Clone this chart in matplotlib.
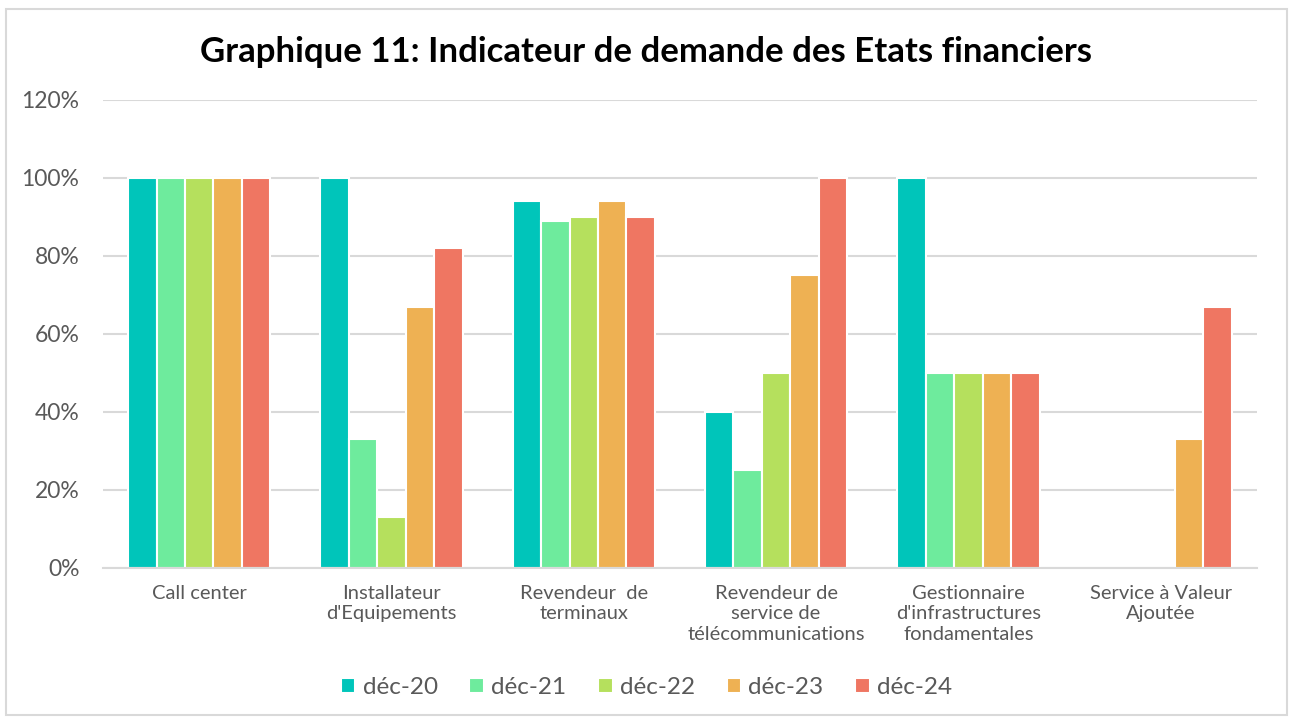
import matplotlib.pyplot as plt
import numpy as np
from matplotlib.patches import Rectangle

# categories and series (values in %)
categories = ["Call center", "Installateur\nd'Equipements", "Revendeur  de\nterminaux",
              "Revendeur de\nservice de\ntélécommunications",
              "Gestionnaire\nd'infrastructures\nfondamentales", "Service à Valeur\nAjoutée"]
series_names = ["déc-20", "déc-21", "déc-22", "déc-23", "déc-24"]
dec20 = [100, 100, 94, 40, 100, 0]
dec21 = [100, 33, 89, 25, 50, 0]
dec22 = [100, 13, 90, 50, 50, 0]
dec23 = [100, 67, 94, 75, 50, 33]
dec24 = [100, 82, 90, 100, 50, 67]
colors = ["#00C5BA", "#6EEB9D", "#B5E05D", "#EEB153", "#EF7662"]
yticks = [0, 20, 40, 60, 80, 100, 120]

plt.rcParams['font.family'] = ['Lato', 'DejaVu Sans']

fig = plt.figure(figsize=(12.93, 7.22), dpi=100)
ax = fig.add_axes([0.0797, 0.2133, 0.8923, 0.6482])

# outer chart border
fig.patches.append(Rectangle((0.005, 0.01), 0.99, 0.978, transform=fig.transFigure,
                             fill=False, edgecolor='#D9D9D9', linewidth=1.5))

x = np.arange(len(categories))
w = 0.148
data = [dec20, dec21, dec22, dec23, dec24]
for i, (vals, name, c) in enumerate(zip(data, series_names, colors)):
    ax.bar(x + (i - 2) * w, vals, width=w, color=c, edgecolor='white', linewidth=1.5,
           label=name, zorder=3)

ax.set_xlim(-0.5, len(categories) - 0.5)
ax.set_ylim(0, 120)
ax.set_yticks(yticks)
ax.set_yticklabels([f"{v}%" for v in yticks], fontsize=16.5, color='#595959')
ax.set_xticks(x)
ax.set_xticklabels(categories, fontsize=14.5, color='#595959', linespacing=1.25)
ax.tick_params(axis='both', length=0)
ax.tick_params(axis='y', pad=17)
ax.tick_params(axis='x', pad=12)
ax.grid(axis='y', color='#D9D9D9', linewidth=1.5, zorder=0)
for s in ['top', 'right', 'left']:
    ax.spines[s].set_visible(False)
ax.spines['bottom'].set_color('#D9D9D9')
ax.spines['bottom'].set_linewidth(1.5)
ax.spines['bottom'].set_zorder(4)

fig.text(0.5, 0.928, "Graphique 11: Indicateur de demande des Etats financiers",
         ha='center', va='center', fontsize=25, fontweight='bold', color='black')

fig.legend(loc='center', bbox_to_anchor=(0.5, 0.048), ncol=5, frameon=False,
           fontsize=17.5, handlelength=0.6, handleheight=0.6, handletextpad=0.3,
           columnspacing=1.3, labelcolor='#595959')

fig.savefig("out.png", dpi=100)
